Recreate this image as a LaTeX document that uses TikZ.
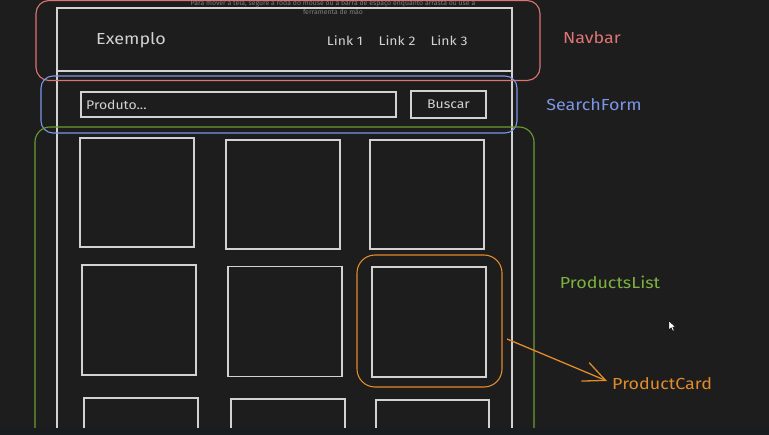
\documentclass[tikz,border=0pt]{standalone}
\usepackage{fontspec}
\setmainfont{Fira Sans}
\newfontfamily\hand[FakeStretch=1.12]{Fira Sans}
\usetikzlibrary{arrows.meta}
\definecolor{bg}{HTML}{1D1D1D}
\definecolor{band}{HTML}{1A1D20}
\definecolor{wline}{HTML}{D2D2D2}
\definecolor{cred}{HTML}{DE7474}
\definecolor{cblue}{HTML}{7C96E6}
\definecolor{cgreen}{HTML}{6B9B33}
\definecolor{cgreentxt}{HTML}{7DB23F}
\definecolor{corange}{HTML}{E08B2C}
\definecolor{hint}{HTML}{7E7E7E}
\tikzset{
  wbox/.style={draw=wline, line width=1.3pt},
  card/.style={draw=wline, line width=1.3pt, inner sep=0pt},
  wtext/.style={text=wline, font=\hand, inner sep=0pt},
  lbl/.style={font=\hand\fontsize{16}{18}\selectfont, inner sep=0pt},
}
\begin{document}
\begin{tikzpicture}[x=1pt,y=-1pt]
\useasboundingbox (0,0) rectangle (769,435);
\fill[bg] (0,0) rectangle (769,435);
% hint text
\node[text=hint, font=\fontsize{6.9}{9}\selectfont, inner sep=0pt, align=center] (hint) at (333,7)
  {Para mover a tela, segure a roda do mouse ou a barra de espaço enquanto arrasta ou use a\\ferramenta de mão};
% page frame
\draw[wbox] (57,428) -- (57,8) -- (512,8) -- (512,428);
\draw[wbox] (57,71) -- (512,71);
% navbar content
\node[wtext, font=\hand\fontsize{16}{18}\selectfont] (brand) at (131,40) {Exemplo};
\node[wtext, font=\hand\fontsize{12.5}{14}\selectfont] (l1) at (345,41) {Link 1};
\node[wtext, font=\hand\fontsize{12.5}{14}\selectfont] (l2) at (397,41) {Link 2};
\node[wtext, font=\hand\fontsize{12.5}{14}\selectfont] (l3) at (449,41) {Link 3};
% search form
\node[wbox, minimum width=315pt, minimum height=25pt, inner sep=0pt] (input) at (238.5,104.5) {};
\node[wtext, font=\hand\fontsize{12.5}{14}\selectfont, anchor=west] (ph) at (86,104.5) {Produto...};
\node[wbox, minimum width=75pt, minimum height=27pt, inner sep=0pt] (btn) at (448.5,104.5) {};
\node[wtext, font=\hand\fontsize{12.5}{14}\selectfont] (btntxt) at (btn.center) {Buscar};
% cards row 1
\node[card, minimum width=114pt, minimum height=109pt] (c11) at (137,192.5) {};
\node[card, minimum width=114pt, minimum height=109pt] (c12) at (283,194.5) {};
\node[card, minimum width=114pt, minimum height=109pt] (c13) at (427,194.5) {};
% cards row 2
\node[card, minimum width=114pt, minimum height=110pt] (c21) at (139,320) {};
\node[card, minimum width=114pt, minimum height=110pt] (c22) at (285,321.5) {};
\node[card, minimum width=114pt, minimum height=110pt] (c23) at (429,322) {};
% cards row 3 (cut off)
\draw[wbox] (84,430) -- (84,398) -- (198,398) -- (198,430);
\draw[wbox] (231,430) -- (231,399) -- (345,399) -- (345,430);
\draw[wbox] (376,430) -- (376,400) -- (489,400) -- (489,430);
% component outlines
\node[draw=cred, line width=1.1pt, rounded corners=13pt, minimum width=504pt, minimum height=80pt, inner sep=0pt] (navbar) at (288,40.5) {};
\node[draw=cblue, line width=1.1pt, rounded corners=12pt, minimum width=476pt, minimum height=57pt, inner sep=0pt] (search) at (279,104.5) {};
\draw[cgreen, line width=1.1pt, rounded corners=15pt] (35,440) -- (35,127) -- (534,127) -- (534,440);
\node[draw=corange, line width=1.1pt, rounded corners=18pt, minimum width=145pt, minimum height=132pt, inner sep=0pt] (pcard) at (429.5,321) {};
% labels
\node[lbl, text=cred] (lnav) at (592,38) {Navbar};
\node[lbl, text=cblue] (lsearch) at (594,105) {SearchForm};
\node[lbl, text=cgreentxt] (llist) at (610,282) {ProductsList};
\node[lbl, text=corange, anchor=west] (lcard) at (612,384) {ProductCard};
% arrow
\coordinate (astart) at (507,339);
\draw[corange, line width=1.3pt, -{Straight Barb[length=22pt,width=20pt]}] (astart) -- ([xshift=-5pt,yshift=3pt]lcard.west);
% cursor
\coordinate (cur) at (669,321);
\filldraw[fill=white, draw=black, line width=0.4pt, shift={(cur)}, scale=0.75]
  (0,0) -- (0,12) -- (3,9) -- (5,13.5) -- (7,12.6) -- (5,8.2) -- (9,8.2) -- cycle;
% bottom band
\fill[band] (0,428) rectangle (769,435);
\end{tikzpicture}
\end{document}
